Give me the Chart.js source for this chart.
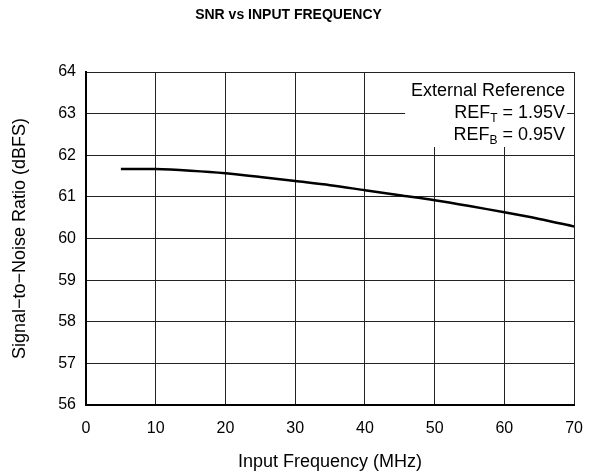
<!DOCTYPE html>
<html>
<head>
<meta charset="utf-8">
<script src="https://cdn.jsdelivr.net/npm/chart.js@4"></script>
<style>
html,body{margin:0;padding:0;background:#fff;}
#wrap{width:597px;height:473px;position:relative;}
</style>
</head>
<body>
<div id="wrap"><canvas id="c" width="597" height="473"></canvas></div>
<script>
const freqMHz = [5, 10, 15, 20, 25, 30, 35, 40, 45, 50, 55, 60, 65, 70];
const snrDbfs = [61.67, 61.67, 61.63, 61.57, 61.48, 61.38, 61.28, 61.16, 61.04, 60.92, 60.78, 60.63, 60.47, 60.29];
const xTicks = [0, 10, 20, 30, 40, 50, 60, 70];
const yTicks = [56, 57, 58, 59, 60, 61, 62, 63, 64];
const noteLines = ["External Reference", ["REF", "T", " = 1.95V"], ["REF", "B", " = 0.95V"]];

const FONT = "'Liberation Sans', Arial, sans-serif";

const notePlugin = {
  id: 'note',
  afterDatasetsDraw(chart) {
    const ctx = chart.ctx;
    const a = chart.chartArea;
    ctx.save();
    ctx.fillStyle = '#fff';
    ctx.fillRect(a.right - 169, a.top + 1, 162, 74);
    ctx.fillStyle = '#000';
    ctx.textBaseline = 'middle';
    const xr = a.right - 9;
    const size = 18;
    const subSize = 12;
    ctx.font = size + 'px ' + FONT;
    ctx.textAlign = 'right';
    ctx.fillText(noteLines[0], xr, a.top + 19);
    for (let i = 1; i < noteLines.length; i++) {
      const [main, sub, rest] = noteLines[i];
      const y = a.top + 19 + i * 22;
      ctx.font = size + 'px ' + FONT;
      const wRest = ctx.measureText(rest).width;
      ctx.font = subSize + 'px ' + FONT;
      const wSub = ctx.measureText(sub).width;
      ctx.font = size + 'px ' + FONT;
      const wMain = ctx.measureText(main).width;
      ctx.textAlign = 'left';
      let x = xr - wRest - wSub - wMain;
      ctx.fillText(main, x, y);
      x += wMain;
      ctx.font = subSize + 'px ' + FONT;
      ctx.fillText(sub, x, y + 6);
      x += wSub;
      ctx.font = size + 'px ' + FONT;
      ctx.fillText(rest, x, y);
    }
    ctx.restore();
  }
};

new Chart(document.getElementById('c'), {
  type: 'line',
  data: {
    datasets: [{
      data: freqMHz.map((f, i) => ({x: f, y: snrDbfs[i]})),
      borderColor: '#000',
      borderWidth: 2.5,
      pointRadius: 0,
      tension: 0.3,
      fill: false
    }]
  },
  options: {
    responsive: false,
    animation: false,
    devicePixelRatio: 1,
    layout: {padding: {left: 0, right: 20, top: 0, bottom: 0}},
    plugins: {
      legend: {display: false},
      tooltip: {enabled: false},
      title: {
        display: true,
        text: 'SNR vs INPUT FREQUENCY',
        color: '#000',
        font: {family: FONT, size: 14, weight: 'bold', lineHeight: 1.2},
        padding: {top: 7, bottom: 48.2}
      }
    },
    scales: {
      x: {
        type: 'linear',
        min: 0, max: 70,
        afterBuildTicks: s => { s.ticks = xTicks.map(v => ({value: v})); },
        afterFit: s => { s.height = 68; },
        grid: {color: '#222', lineWidth: 1, drawTicks: false},
        border: {color: '#000', width: 2},
        ticks: {color: '#000', padding: 14, font: {family: FONT, size: 16}, maxRotation: 0},
        title: {display: true, text: 'Input Frequency (MHz)', color: '#000', font: {family: FONT, size: 18}, padding: {top: 0, bottom: 0}}
      },
      y: {
        min: 56, max: 64,
        afterBuildTicks: s => { s.ticks = yTicks.map(v => ({value: v})); },
        afterFit: s => { s.width = 86; },
        grid: {color: '#222', lineWidth: 1, drawTicks: false},
        border: {color: '#000', width: 2},
        ticks: {color: '#000', padding: 10, font: {family: FONT, size: 16}},
        title: {display: true, text: 'Signal−to−Noise Ratio (dBFS)', color: '#000', font: {family: FONT, size: 18}, padding: {top: 9, bottom: 0}}
      }
    }
  },
  plugins: [notePlugin]
});
</script>
</body>
</html>
